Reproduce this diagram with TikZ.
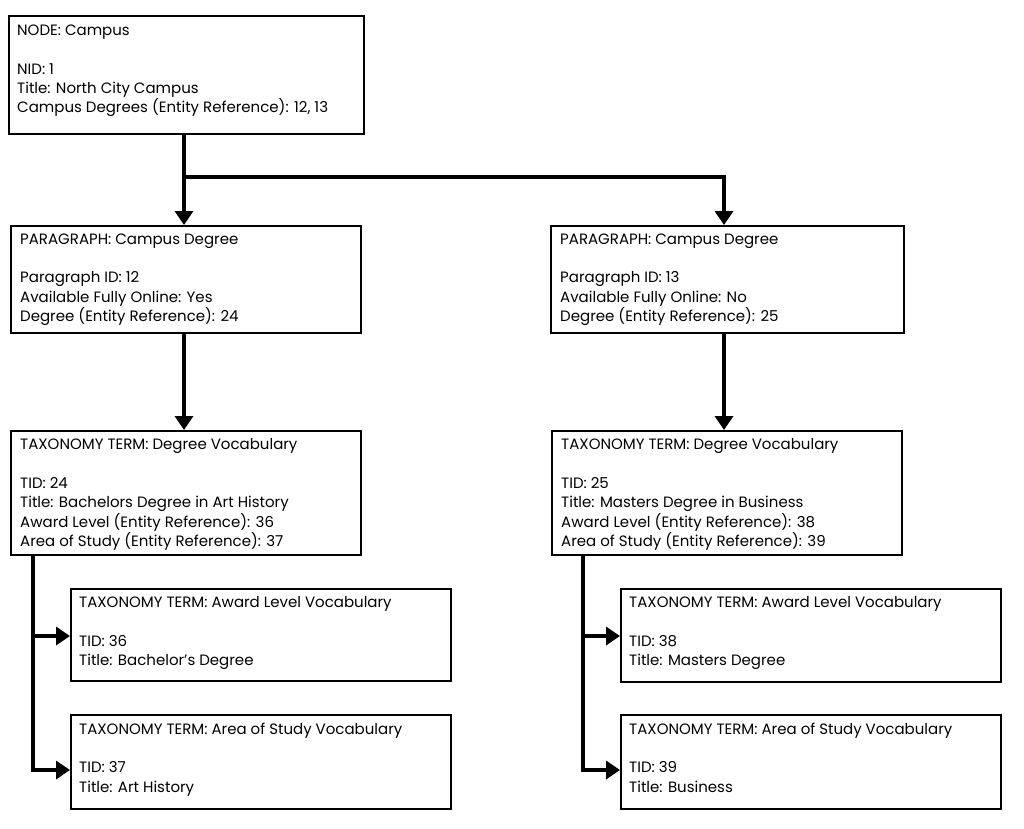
\documentclass[tikz,border=0pt]{standalone}
\usepackage{fontspec}
\setmainfont{Poppins}
\usetikzlibrary{arrows.meta,calc}
\begin{document}
\begin{tikzpicture}[x=1pt,y=-1pt,
  box/.style={draw=black, line width=2pt, rectangle, anchor=north west, inner sep=0pt, fill=white},
  txt/.style={anchor=north west, inner sep=0pt, align=left, font=\fontsize{15}{19.3}\selectfont},
  conn/.style={draw=black, line width=4pt, -{Triangle[length=14pt,width=18pt]}}]
\useasboundingbox[fill=white] (0,0) rectangle (1024,828);
% boxes
\node[box, minimum width=355pt, minimum height=118pt] (b1) at (8,15) {};
\node[box, minimum width=350pt, minimum height=107pt] (b2) at (10,225) {};
\node[box, minimum width=353pt, minimum height=107pt] (b3) at (550,225) {};
\node[box, minimum width=350pt, minimum height=124pt] (b4) at (10,430) {};
\node[box, minimum width=350pt, minimum height=124pt] (b5) at (551,430) {};
\node[box, minimum width=380pt, minimum height=92pt] (b6) at (70,588) {};
\node[box, minimum width=380pt, minimum height=94pt] (b7) at (70,714) {};
\node[box, minimum width=380pt, minimum height=93pt] (b8) at (620,588) {};
\node[box, minimum width=380pt, minimum height=94pt] (b9) at (620,714) {};
% texts
\node[txt] (t1) at ($(b1.north west)+(9,10)$) {NODE: Campus\\[19.3pt]NID: 1\\Title: North City Campus\\Campus Degrees (Entity Reference): 12, 13};
\node[txt] (t2) at ($(b2.north west)+(10,8.5)$) {PARAGRAPH: Campus Degree\\[19.3pt]Paragraph ID: 12\\Available Fully Online: Yes\\Degree (Entity Reference): 24};
\node[txt] (t3) at ($(b3.north west)+(10,8.5)$) {PARAGRAPH: Campus Degree\\[19.3pt]Paragraph ID: 13\\Available Fully Online: No\\Degree (Entity Reference): 25};
\node[txt] (t4) at ($(b4.north west)+(10,8.5)$) {TAXONOMY TERM: Degree Vocabulary\\[19.3pt]TID: 24\\Title: Bachelors Degree in Art History\\Award Level (Entity Reference): 36\\Area of Study (Entity Reference): 37};
\node[txt] (t5) at ($(b5.north west)+(10,8.5)$) {TAXONOMY TERM: Degree Vocabulary\\[19.3pt]TID: 25\\Title: Masters Degree in Business\\Award Level (Entity Reference): 38\\Area of Study (Entity Reference): 39};
\node[txt] (t6) at ($(b6.north west)+(9,8.5)$) {TAXONOMY TERM: Award Level Vocabulary\\[19.3pt]TID: 36\\Title: Bachelor's Degree};
\node[txt] (t7) at ($(b7.north west)+(9,8.5)$) {TAXONOMY TERM: Area of Study Vocabulary\\[19.3pt]TID: 37\\Title: Art History};
\node[txt] (t8) at ($(b8.north west)+(9,8.5)$) {TAXONOMY TERM: Award Level Vocabulary\\[19.3pt]TID: 38\\Title: Masters Degree};
\node[txt] (t9) at ($(b9.north west)+(9,8.5)$) {TAXONOMY TERM: Area of Study Vocabulary\\[19.3pt]TID: 39\\Title: Business};
% connectors
\coordinate (j1) at ($(b1.south west)+(176,42)$);
\draw[conn] ($(b1.south west)+(176,0)$) -- ($(b2.north west)+(174,0)$);
\draw[conn] (j1) -| ($(b3.north west)+(174,0)$);
\draw[conn] ($(b2.south west)+(174,0)$) -- ($(b4.north west)+(174,0)$);
\draw[conn] ($(b3.south west)+(174,0)$) -- ($(b5.north west)+(173,0)$);
\draw[conn] ($(b4.south west)+(23,0)$) |- ($(b6.north west)+(0,48)$);
\draw[conn] ($(b4.south west)+(23,0)$) |- ($(b7.north west)+(0,56)$);
\draw[conn] ($(b5.south west)+(32,0)$) |- ($(b8.north west)+(0,48)$);
\draw[conn] ($(b5.south west)+(32,0)$) |- ($(b9.north west)+(0,56)$);
\end{tikzpicture}
\end{document}
